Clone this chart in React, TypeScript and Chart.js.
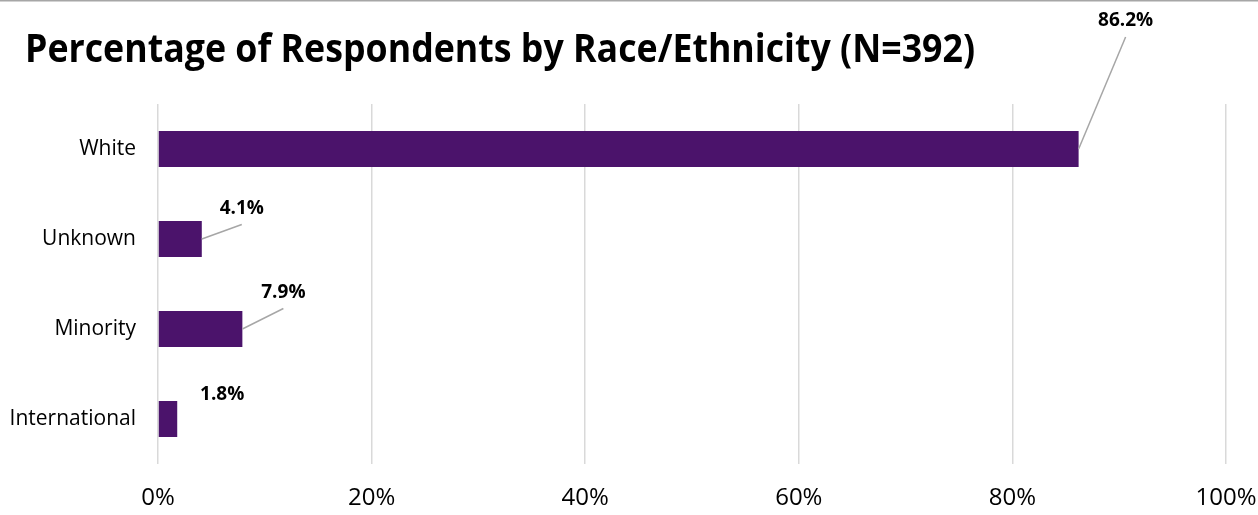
import React, { useEffect, useRef } from "react";
import { Chart, registerables } from "chart.js";

Chart.register(...registerables);

const titleText = "Percentage of Respondents by Race/Ethnicity (N=392)";
const categories = ["White", "Unknown", "Minority", "International"];
const percentages = [86.2, 4.1, 7.9, 1.8];
const xTickValues = [0, 20, 40, 60, 80, 100];

// label placement relative to bar end (px) and whether to draw a leader line
const labelPlacement = [
  { dx: 47, dy: -123, leader: true },
  { dx: 40, dy: -25.5, leader: true },
  { dx: 41, dy: -31.5, leader: true },
  { dx: 45, dy: -19, leader: false },
];

const FONT = "'Open Sans', 'Noto Sans', sans-serif";

const overlayPlugin = {
  id: "overlay",
  afterDraw(chart: any) {
    const ctx = chart.ctx as CanvasRenderingContext2D;
    const xs = chart.scales.x;
    const ys = chart.scales.y;
    ctx.save();
    // top border line
    ctx.strokeStyle = "#A6A6A6";
    ctx.lineWidth = 1.5;
    ctx.beginPath();
    ctx.moveTo(0, 0.75);
    ctx.lineTo(chart.width, 0.75);
    ctx.stroke();

    // title
    ctx.font = `bold 40px ${FONT}`;
    ctx.fillStyle = "#000";
    ctx.textAlign = "left";
    ctx.textBaseline = "alphabetic";
    const w = ctx.measureText(titleText).width;
    const s = Math.min(1, 950 / w);
    ctx.save();
    ctx.translate(25, 62);
    ctx.scale(s, 1);
    ctx.fillText(titleText, 0, 0);
    ctx.restore();

    // data labels with leader lines
    ctx.font = `bold 19px ${FONT}`;
    ctx.textAlign = "center";
    percentages.forEach((v, i) => {
      const bx = xs.getPixelForValue(v);
      const by = ys.getPixelForValue(i);
      const p = labelPlacement[i];
      const lx = bx + p.dx;
      const ly = by + p.dy;
      if (p.leader) {
        ctx.strokeStyle = "#A6A6A6";
        ctx.lineWidth = 1.5;
        ctx.beginPath();
        ctx.moveTo(bx, by);
        ctx.lineTo(lx, ly + 11);
        ctx.stroke();
      }
      ctx.fillStyle = "#000";
      ctx.fillText(v.toFixed(1) + "%", lx, ly);
    });
    ctx.restore();
  },
};

export default function App() {
  const ref = useRef<HTMLCanvasElement | null>(null);
  useEffect(() => {
    document.body.style.margin = "0";
    const canvas = ref.current;
    if (!canvas) return;
    const chart = new Chart(canvas, {
      type: "bar",
      data: {
        labels: categories,
        datasets: [
          {
            data: percentages,
            backgroundColor: "#4B136B",
            barPercentage: 0.4,
            categoryPercentage: 1,
          },
        ],
      },
      options: {
        indexAxis: "y",
        responsive: false,
        maintainAspectRatio: false,
        animation: false,
        layout: { padding: { top: 104, right: 32, bottom: 0, left: 0 } },
        plugins: {
          legend: { display: false },
          title: { display: false },
          tooltip: { enabled: false },
        },
        scales: {
          x: {
            min: 0,
            max: 100,
            afterBuildTicks: (scale: any) => {
              scale.ticks = xTickValues.map((v) => ({ value: v }));
            },
            ticks: {
              callback: (v: any) => v + "%",
              font: { family: FONT, size: 24 },
              color: "#000",
              padding: 20,
              maxRotation: 0,
            },
            grid: { color: "#D9D9D9", lineWidth: 1.5, drawTicks: false },
            border: { display: false },
            afterFit: (scale: any) => {
              scale.height = 51;
              scale.paddingLeft = 0;
              scale.paddingRight = 0;
            },
          },
          y: {
            ticks: {
              font: { family: FONT, size: 21 },
              color: "#000",
              padding: 22,
            },
            grid: { display: false, drawTicks: false },
            border: { display: false },
            afterFit: (scale: any) => {
              scale.width = 158;
              scale.paddingTop = 0;
              scale.paddingBottom = 0;
            },
          },
        },
      },
      plugins: [overlayPlugin],
    } as any);
    return () => chart.destroy();
  }, []);
  return (
    <div style={{ width: 1258, height: 515 }}>
      <canvas ref={ref} width={1258} height={515} style={{ display: "block" }} />
    </div>
  );
}
